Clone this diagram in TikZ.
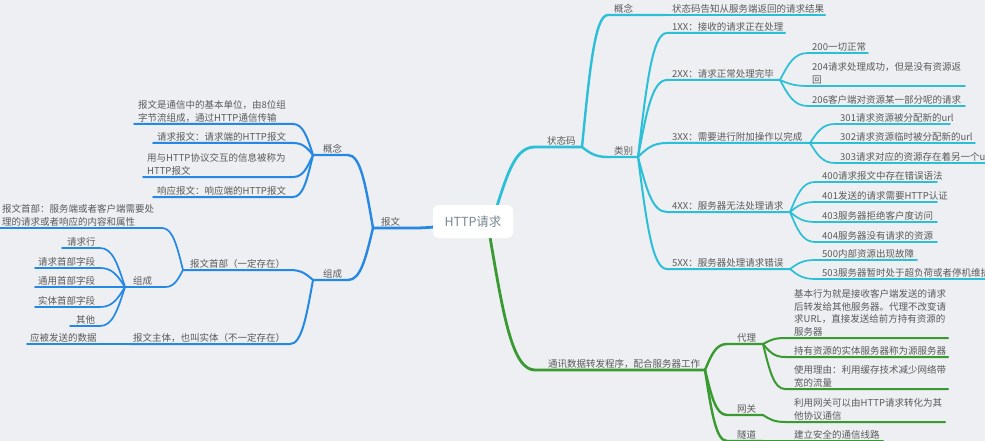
\documentclass[tikz,border=0pt]{standalone}
\usepackage{fontspec}
\setmainfont{Noto Sans CJK SC}
\usetikzlibrary{calc}
\definecolor{bgc}{HTML}{EDEFF2}
\definecolor{blueC}{HTML}{2488E4}
\definecolor{cyanC}{HTML}{2BBFD8}
\definecolor{greenC}{HTML}{3A9A32}
\definecolor{txtC}{HTML}{5A5A5A}
\definecolor{ctrC}{HTML}{7A8794}
\newcommand\mmtopic[6]{%
  \coordinate (#1-a) at (#2,#4);
  \coordinate (#1-b) at (#3,#4);
  \node[txt] (#1) at (#5,#4-1.5) {#6};}
\begin{document}
\begin{tikzpicture}[x=1pt,y=-1pt,
  txt/.style={inner sep=0pt, anchor=south west, text=txtC, align=left,
    font=\fontsize{9.5}{12.7}\selectfont},
  ctr/.style={fill=white, rounded corners=6pt, minimum width=80pt, minimum height=33pt,
    inner sep=0pt, text=ctrC, font=\fontsize{12.5}{15}\selectfont},
  mmcurve/.style={to path={let \p1=(\tikztostart), \p2=(\tikztotarget) in
    .. controls ({\x1+0.3*(\x2-\x1)},{\y1+0.6*(\y2-\y1)}) and ({\x1+0.5*(\x2-\x1)},{\y2}) .. (\tikztotarget) \tikztonodes}},
  bl/.style={draw=blueC, line cap=round, line join=round},
  cy/.style={draw=cyanC, line cap=round, line join=round},
  gr/.style={draw=greenC, line cap=round, line join=round},
  w1/.style={line width=2.8pt},
  w2/.style={line width=2.4pt},
  w3/.style={line width=2pt},
  w4/.style={line width=1.7pt}]
\useasboundingbox (0,0) rectangle (985,441);
\clip (0,0) rectangle (985,441);
\fill[bgc] (0,0) rectangle (985,441);

% ---------- left (blue) ----------
\mmtopic{bw}{412}{373}{228}{381}{报文}
\mmtopic{gn}{348}{313}{155}{323}{概念}
\mmtopic{ka}{293}{134}{124}{138}{报文是通信中的基本单位，由8位组\\字节流组成，通过HTTP通信传输}
\mmtopic{kb}{293}{153}{143}{157}{请求报文：请求端的HTTP报文}
\mmtopic{kc}{293}{143}{177}{147}{用与HTTP协议交互的信息被称为\\HTTP报文}
\mmtopic{kd}{293}{153}{197}{157}{响应报文：响应端的HTTP报文}
\mmtopic{zc}{348}{313}{280}{323}{组成}
\mmtopic{hd}{290}{183}{270}{190}{报文首部（一定存在）}
\mmtopic{bt}{290}{130}{344}{133}{报文主体，也叫实体（不一定存在）}
\mmtopic{bd}{130}{27}{344}{30}{应被发送的数据}
\mmtopic{ha}{162}{-5}{228}{2}{报文首部：服务端或者客户端需要处\\理的请求或者响应的内容和属性}
\mmtopic{zd}{165}{125}{287}{133}{组成}
\mmtopic{qa}{100}{62}{248}{67}{请求行}
\mmtopic{qb}{100}{35}{268}{38}{请求首部字段}
\mmtopic{qc}{100}{35}{287}{38}{通用首部字段}
\mmtopic{qd}{100}{35}{307}{38}{实体首部字段}
\mmtopic{qe}{100}{70}{326}{76}{其他}

% ---------- right (cyan) ----------
\mmtopic{zt}{535}{582}{147}{547}{状态码}
\mmtopic{gr}{608}{665}{15}{614}{概念}
\mmtopic{gs}{665}{825}{15}{672}{状态码告知从服务端返回的请求结果}
\mmtopic{lb}{608}{638}{157}{614}{类别}
\mmtopic{xa}{667}{785}{33}{672}{1XX：接收的请求正在处理}
\mmtopic{xb}{667}{780}{80}{672}{2XX：请求正常处理完毕}
\mmtopic{xc}{667}{810}{143}{672}{3XX：需要进行附加操作以完成}
\mmtopic{xd}{667}{790}{212}{672}{4XX：服务器无法处理请求}
\mmtopic{xe}{667}{790}{269}{672}{5XX：服务器处理请求错误}
\mmtopic{ba}{808}{868}{53}{812}{200一切正常}
\mmtopic{bb}{808}{965}{86}{812}{204请求处理成功，但是没有资源返\\回}
\mmtopic{bc}{808}{965}{106}{812}{206客户端对资源某一部分呢的请求}
\mmtopic{ca}{835}{950}{124}{840}{301请求资源被分配新的url}
\mmtopic{cb}{835}{975}{143}{840}{302请求资源临时被分配新的url}
\mmtopic{cc}{835}{990}{163}{840}{303请求对应的资源存在着另一个url}
\mmtopic{da}{815}{937}{182}{822}{400请求报文中存在错误语法}
\mmtopic{db}{815}{937}{202}{822}{401发送的请求需要HTTP认证}
\mmtopic{dc}{815}{937}{222}{822}{403服务器拒绝客户度访问}
\mmtopic{dd}{815}{937}{242}{822}{404服务器没有请求的资源}
\mmtopic{ea}{815}{917}{260}{822}{500内部资源出现故障}
\mmtopic{eb}{815}{990}{279}{822}{503服务器暂时处于超负荷或者停机维护}

% ---------- right (green) ----------
\mmtopic{tx}{535}{705}{370}{548}{通讯数据转发程序，配合服务器工作}
\mmtopic{dl}{727}{763}{344}{737}{代理}
\mmtopic{wg}{727}{763}{415}{737}{网关}
\mmtopic{sd}{727}{763}{441}{737}{隧道}
\mmtopic{pa}{785}{948}{338}{794}{基本行为就是接收客户端发送的请求\\后转发给其他服务器。代理不改变请\\求URL，直接发送给前方持有资源的\\服务器}
\mmtopic{pb}{785}{948}{357}{794}{持有资源的实体服务器称为源服务器}
\mmtopic{pc}{785}{948}{389}{794}{使用理由：利用缓存技术减少网络带\\宽的流量}
\mmtopic{wa}{785}{945}{422}{794}{利用网关可以由HTTP请求转化为其\\他协议通信}
\mmtopic{sa}{763}{883}{441}{794}{建立安全的通信线路}

% ---------- centre ----------
\coordinate (cL) at (434,227);
\coordinate (cT) at (497,206);
\coordinate (cB) at (490,237);

% connectors blue
\draw[bl,w1] (cL) to[mmcurve] (bw-a) -- (bw-b);
\draw[bl,w2] (bw-b) to[mmcurve] (gn-a) -- (gn-b);
\draw[bl,w2] (bw-b) to[mmcurve] (zc-a) -- (zc-b);
\foreach \k in {ka,kb,kc,kd} \draw[bl,w3] (gn-b) to[mmcurve] (\k-a) -- (\k-b);
\draw[bl,w3] (zc-b) to[mmcurve] (hd-a) -- (hd-b);
\draw[bl,w3] (zc-b) to[mmcurve] (bt-a) -- (bt-b);
\draw[bl,w4] (bt-b) -- (bd-a) -- (bd-b);
\draw[bl,w4] (hd-b) to[mmcurve] (ha-a) -- (ha-b);
\draw[bl,w4] (hd-b) to[mmcurve] (zd-a) -- (zd-b);
\foreach \k in {qa,qb,qc,qd,qe} \draw[bl,w4] (zd-b) to[mmcurve] (\k-a) -- (\k-b);

% connectors cyan
\draw[cy,w1] (cT) to[mmcurve] (zt-a) -- (zt-b);
\draw[cy,w2] (zt-b) to[mmcurve] (gr-a) -- (gr-b);
\draw[cy,w3] (gr-b) -- (gs-a) -- (gs-b);
\draw[cy,w2] (zt-b) to[mmcurve] (lb-a) -- (lb-b);
\foreach \k in {xa,xb,xc,xd,xe} \draw[cy,w3] (lb-b) to[mmcurve] (\k-a) -- (\k-b);
\foreach \k in {ba,bb,bc} \draw[cy,w4] (xb-b) to[mmcurve] (\k-a) -- (\k-b);
\foreach \k in {ca,cb,cc} \draw[cy,w4] (xc-b) to[mmcurve] (\k-a) -- (\k-b);
\foreach \k in {da,db,dc,dd} \draw[cy,w4] (xd-b) to[mmcurve] (\k-a) -- (\k-b);
\foreach \k in {ea,eb} \draw[cy,w4] (xe-b) to[mmcurve] (\k-a) -- (\k-b);

% connectors green
\draw[gr,w1] (cB) to[mmcurve] (tx-a) -- (tx-b);
\foreach \k in {dl,wg,sd} \draw[gr,w2] (tx-b) to[mmcurve] (\k-a) -- (\k-b);
\foreach \k in {pa,pb,pc} \draw[gr,w3] (dl-b) to[mmcurve] (\k-a) -- (\k-b);
\draw[gr,w3] (wg-b) to[mmcurve] (wa-a) -- (wa-b);
\draw[gr,w3] (sd-b) -- (sa-a) -- (sa-b);

\node[ctr] (c) at (473,221.5) {HTTP请求};
\end{tikzpicture}
\end{document}
